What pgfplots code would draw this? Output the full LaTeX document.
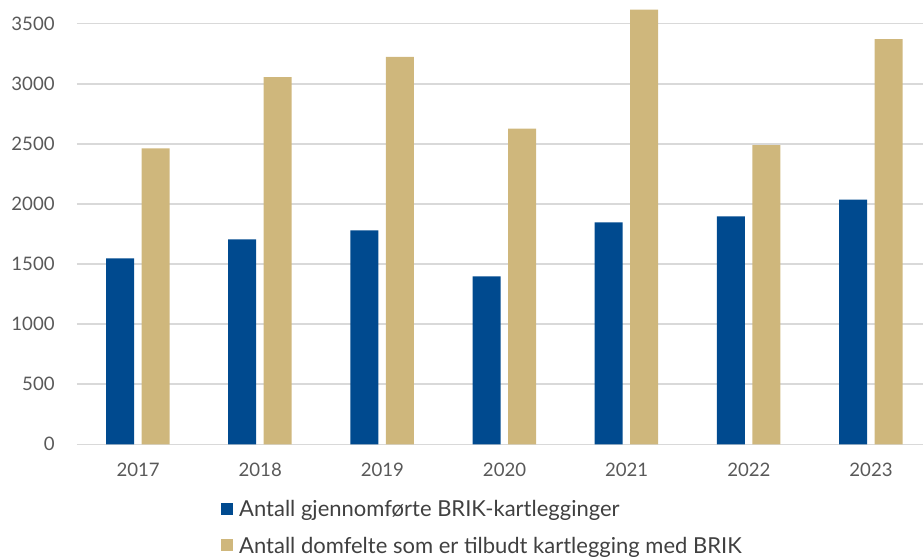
\documentclass[border=0pt]{standalone}
\usepackage{pgfplots}
\pgfplotsset{compat=1.18}
\usepackage{fontspec}
\setmainfont{Lato}
\definecolor{barblue}{HTML}{004A8F}
\definecolor{bargold}{HTML}{CFB77C}
\definecolor{gridgray}{HTML}{D9D9D9}
\definecolor{ticktext}{HTML}{595959}
\definecolor{legtext}{HTML}{404040}
\begin{document}
\begin{tikzpicture}
\useasboundingbox (-38.5pt,-57.85pt) rectangle (423pt,222.15pt);
\begin{axis}[
  at={(0,0)}, anchor=south west,
  scale only axis, width=423pt, height=222.15pt,
  xmin=-0.5, xmax=6.4255, ymin=0, ymax=3697,
  ybar, bar width=14pt,
  clip=true,
  xtick={0,1,2,3,4,5,6},
  xticklabels={2017,2018,2019,2020,2021,2022,2023},
  ytick={0,500,1000,1500,2000,2500,3000,3500},
  ymajorgrids, grid style={gridgray, line width=0.75pt},
  axis line style={draw=none},
  major tick length=0pt,
  /pgf/number format/assume math mode=true,
  /pgf/number format/1000 sep={},
  tick label style={font=\fontsize{9.3}{11}\selectfont, text=ticktext},
  yticklabel style={anchor=east, inner sep=0pt, xshift=-11pt},
  xticklabel style={anchor=north, inner sep=0pt, yshift=-9pt},
  legend image code/.code={\fill[#1] (0pt,-2.5pt) rectangle (6pt,3.5pt);},
  legend cell align=left,
  legend style={at={(0.170,-0.125)}, anchor=north west, draw=none, fill=none,
    inner sep=0pt, row sep=8.7pt,
    font=\fontsize{11}{13}\selectfont, text=legtext,
    nodes={inner xsep=3pt, inner ysep=0pt}},
]
\addplot[fill=barblue, draw=none, bar shift=-9pt] coordinates {
  (0,1547) (1,1705) (2,1780) (3,1398) (4,1847) (5,1897) (6,2035)};
\addlegendentry{Antall gjennomførte BRIK-kartlegginger}
\addplot[fill=bargold, draw=none, bar shift=8.75pt] coordinates {
  (0,2463) (1,3056) (2,3223) (3,2627) (4,3616) (5,2489) (6,3372)};
\addlegendentry{Antall domfelte som er tilbudt kartlegging med BRIK}
\end{axis}
\end{tikzpicture}
\end{document}
